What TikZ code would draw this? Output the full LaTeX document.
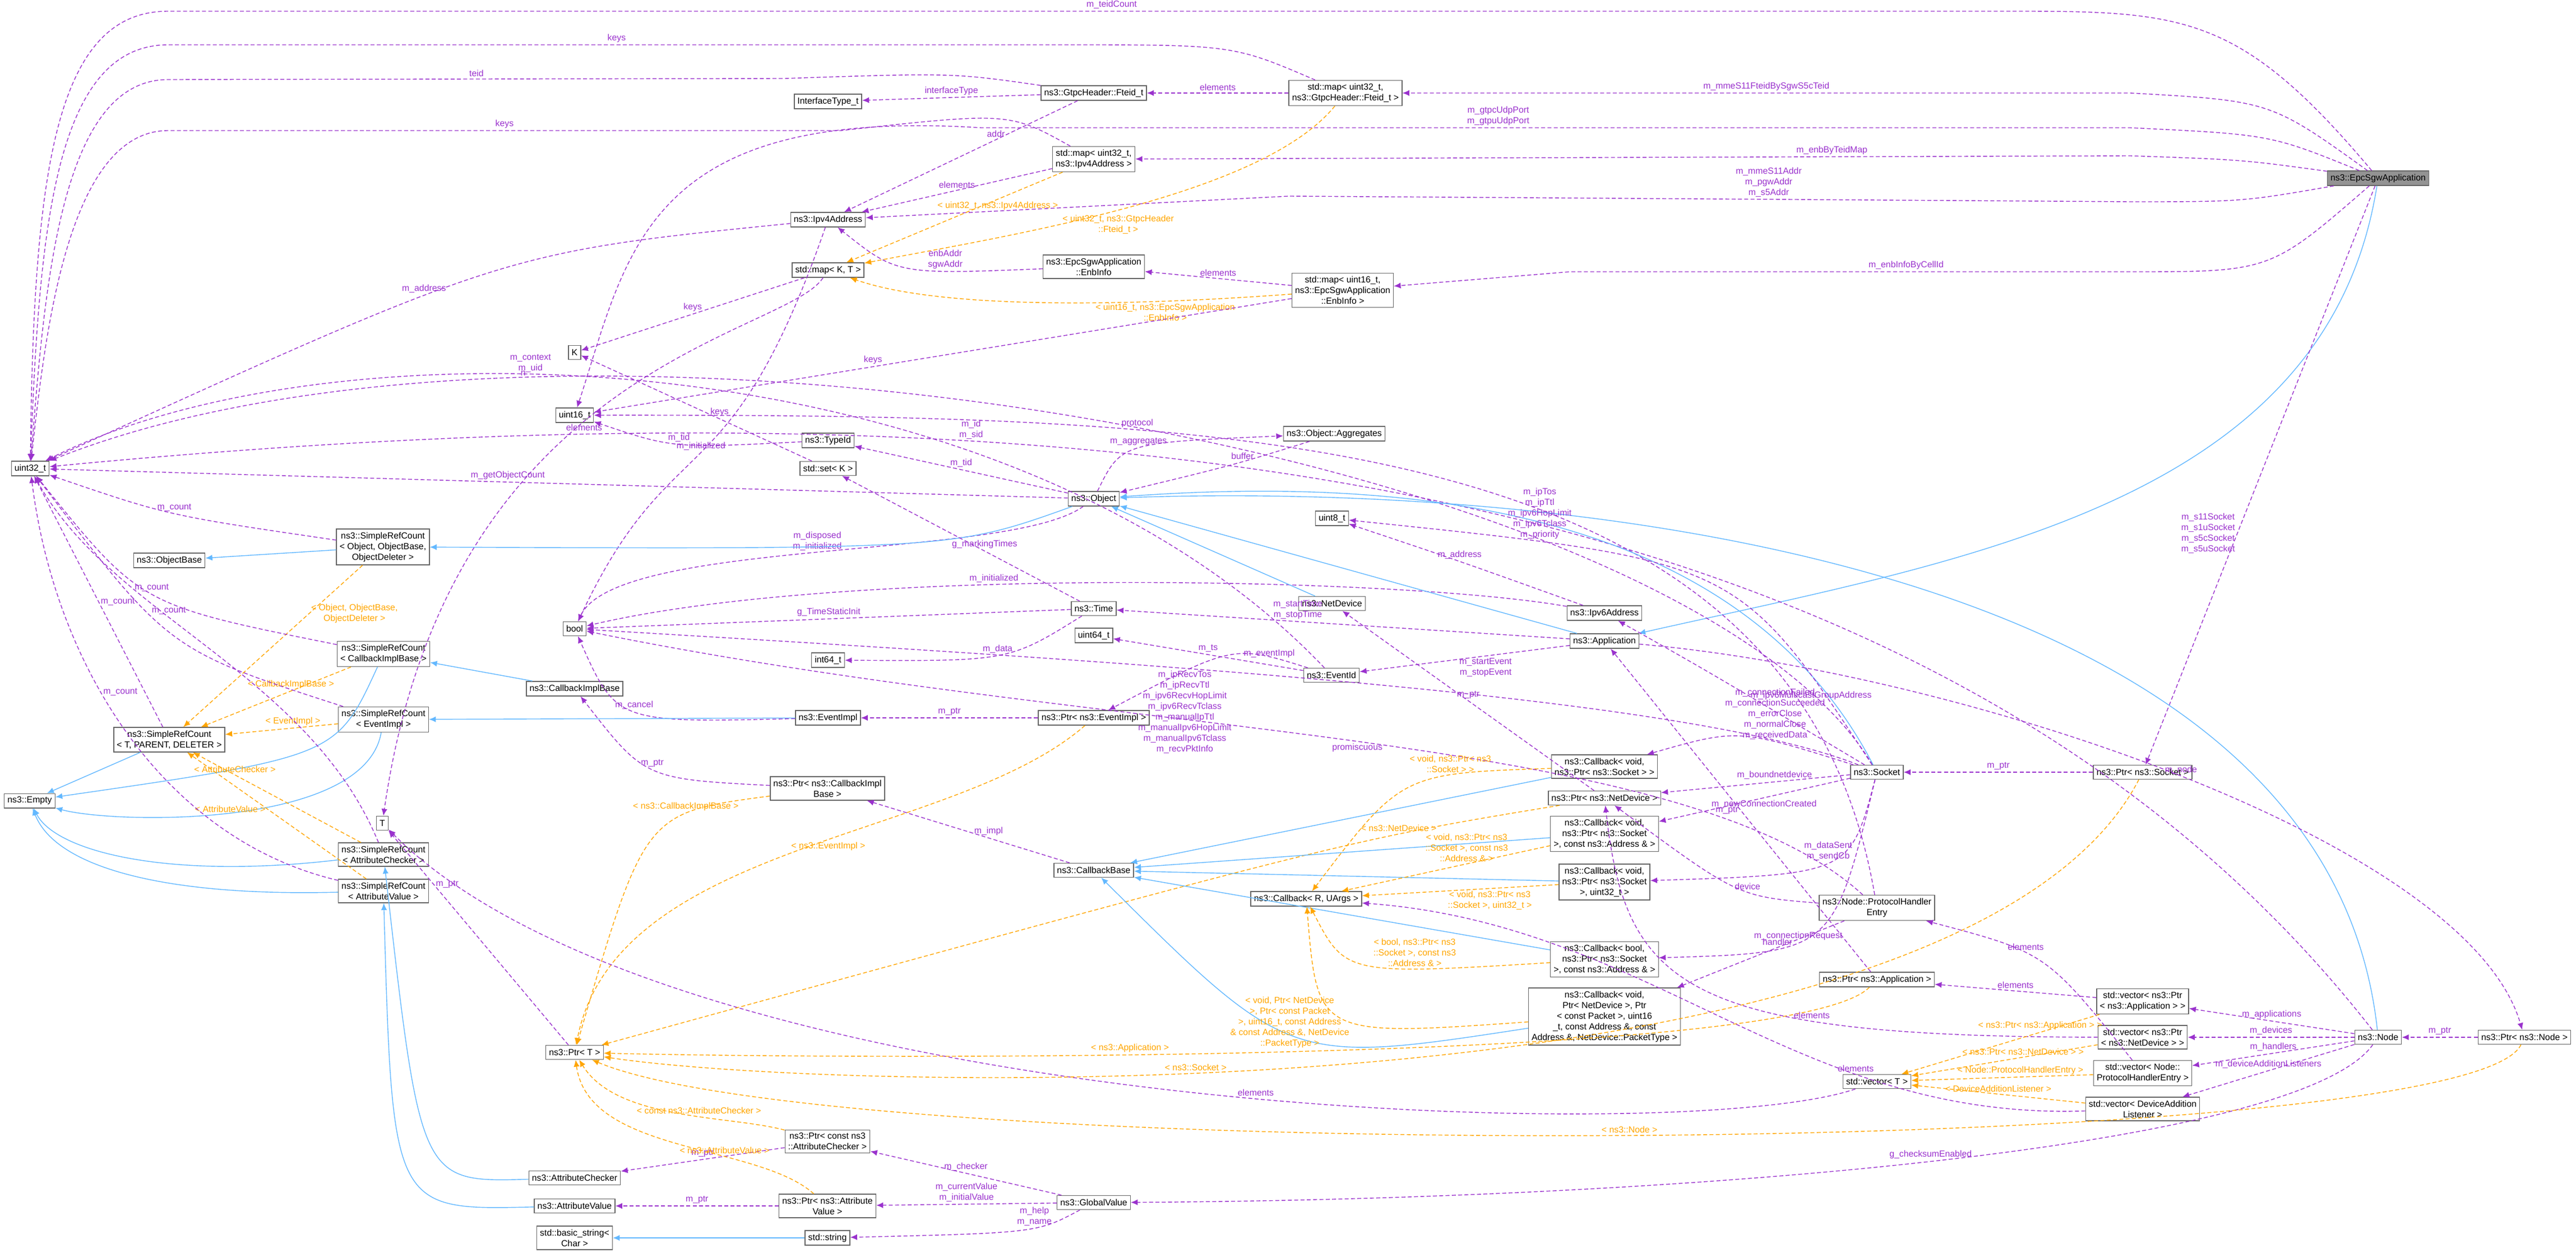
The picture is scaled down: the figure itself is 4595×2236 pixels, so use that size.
\documentclass[tikz,border=0pt]{standalone}
\usepackage{fontspec}
\setmainfont{Liberation Sans}
\usetikzlibrary{arrows.meta,positioning}
\definecolor{dxpurple}{RGB}{154,50,205}
\definecolor{dxblue}{RGB}{99,184,255}
\definecolor{dxorange}{RGB}{255,165,0}
\definecolor{dxgray}{RGB}{102,102,102}

\begin{document}
\begin{tikzpicture}[x=0.01cm, y=-0.01cm,
  cls/.style={draw=dxgray, fill=white, font=\fontsize{4.5}{5.4}\selectfont,
    align=center, inner sep=1.6pt, minimum height=0.25cm},
  lbl/.style={font=\fontsize{4.5}{5.4}\selectfont, align=center, inner sep=1pt, fill=none},
  mem/.style={-{Latex[length=3.5pt,width=3pt]}, dashed, dash pattern=on 2pt off 1.2pt, line width=0.4pt, dxpurple},
  inh/.style={-{Latex[length=3.5pt,width=3pt]}, line width=0.4pt, dxblue},
  tpl/.style={-{Latex[length=3.5pt,width=3pt]}, dashed, dash pattern=on 2pt off 1.2pt, line width=0.4pt, dxorange}]
\useasboundingbox (0,0) rectangle (4595,2236);
% Classes, left part
\node[cls] (uint32) at (54,836) {uint32\_t};
\node[cls] (iftype) at (1477,181) {InterfaceType\_t};
\node[cls] (fteid) at (1951,166) {ns3::GtpcHeader::Fteid\_t};
\node[cls] (mapfteid) at (2400,166) {std::map\textless{} uint32\_t,\\ns3::GtpcHeader::Fteid\_t \textgreater};
\node[cls] (mapipv4) at (1951,284) {std::map\textless{} uint32\_t,\\ns3::Ipv4Address \textgreater};
\node[cls] (ipv4) at (1477,392) {ns3::Ipv4Address};
\node[cls] (mapkt) at (1477,482) {std::map\textless{} K, T \textgreater};
\node[cls] (enbinfo) at (1951,476) {ns3::EpcSgwApplication\\::EnbInfo};
\node[cls] (mapenb) at (2395,518) {std::map\textless{} uint16\_t,\\ns3::EpcSgwApplication\\::EnbInfo \textgreater};
\node[cls] (kk) at (1025,629) {K};
\node[cls] (uint16) at (1025,741) {uint16\_t};
\node[cls] (typeid) at (1477,786) {ns3::TypeId};
\node[cls] (setk) at (1477,836) {std::set\textless{} K \textgreater};
\node[cls] (object) at (1951,890) {ns3::Object};
\node[cls] (aggr) at (2380,774) {ns3::Object::Aggregates};
\node[cls] (srcobj) at (683,976) {ns3::SimpleRefCount\\\textless{} Object, ObjectBase,\\ObjectDeleter \textgreater};
\node[cls] (objbase) at (302,1000) {ns3::ObjectBase};
\node[cls] (boolt) at (1025,1122) {bool};
\node[cls] (time) at (1951,1086) {ns3::Time};
\node[cls] (int64) at (1477,1178) {int64\_t};
\node[cls] (uint64) at (1951,1134) {uint64\_t};
\node[cls] (srccb) at (684,1167) {ns3::SimpleRefCount\\\textless{} CallbackImplBase \textgreater};
\node[cls] (cbimpl) at (1025,1229) {ns3::CallbackImplBase};
\node[cls] (srcev) at (684,1284) {ns3::SimpleRefCount\\\textless{} EventImpl \textgreater};
\node[cls] (evimpl) at (1477,1281) {ns3::EventImpl};
\node[cls] (ptrev) at (1951,1281) {ns3::Ptr\textless{} ns3::EventImpl \textgreater};
\node[cls] (srctpd) at (302,1320) {ns3::SimpleRefCount\\\textless{} T, PARENT, DELETER \textgreater};
\node[cls] (empty) at (53,1429) {ns3::Empty};
\node[cls] (tt) at (682,1469) {T};
\node[cls] (ptrcb) at (1476,1407) {ns3::Ptr\textless{} ns3::CallbackImpl\\Base \textgreater};
\node[cls] (cbbase) at (1951,1553) {ns3::CallbackBase};
\node[cls] (srcac) at (684,1525) {ns3::SimpleRefCount\\\textless{} AttributeChecker \textgreater};
\node[cls] (srcav) at (684,1590) {ns3::SimpleRefCount\\\textless{} AttributeValue \textgreater};
\node[cls] (ptrt) at (1025,1878) {ns3::Ptr\textless{} T \textgreater};
\node[cls] (ptrcac) at (1476,2037) {ns3::Ptr\textless{} const ns3\\::AttributeChecker \textgreater};
\node[cls] (attchk) at (1025,2102) {ns3::AttributeChecker};
\node[cls] (attval) at (1025,2152) {ns3::AttributeValue};
\node[cls] (ptrav) at (1476,2152) {ns3::Ptr\textless{} ns3::Attribute\\Value \textgreater};
\node[cls] (globval) at (1951,2146) {ns3::GlobalValue};
\node[cls] (basicstr) at (1025,2209) {std::basic\_string\textless\\Char \textgreater};
\node[cls] (stdstr) at (1476,2209) {std::string};
% Classes, right part
\node[cls, fill=gray!85] (sgw) at (4242,318) {ns3::EpcSgwApplication};
\node[cls] (uint8) at (2376,925) {uint8\_t};
\node[cls] (netdev) at (2376,1077) {ns3::NetDevice};
\node[cls] (ipv6) at (2862,1094) {ns3::Ipv6Address};
\node[cls] (app) at (2862,1144) {ns3::Application};
\node[cls] (eventid) at (2375,1205) {ns3::EventId};
\node[cls] (cbsock) at (2862,1368) {ns3::Callback\textless{} void,\\ns3::Ptr\textless{} ns3::Socket \textgreater{} \textgreater};
\node[cls] (ptrnd) at (2862,1424) {ns3::Ptr\textless{} ns3::NetDevice \textgreater};
\node[cls] (cbaddr) at (2862,1488) {ns3::Callback\textless{} void,\\ns3::Ptr\textless{} ns3::Socket\\\textgreater, const ns3::Address \& \textgreater};
\node[cls] (cbu32) at (2862,1574) {ns3::Callback\textless{} void,\\ns3::Ptr\textless{} ns3::Socket\\\textgreater, uint32\_t \textgreater};
\node[cls] (cbru) at (2330,1604) {ns3::Callback\textless{} R, UArgs \textgreater};
\node[cls] (cbbool) at (2862,1712) {ns3::Callback\textless{} bool,\\ns3::Ptr\textless{} ns3::Socket\\\textgreater, const ns3::Address \& \textgreater};
\node[cls] (cbnd) at (2862,1814) {ns3::Callback\textless{} void,\\Ptr\textless{} NetDevice \textgreater, Ptr\\\textless{} const Packet \textgreater, uint16\\\_t, const Address \&, const\\Address \&, NetDevice::PacketType \textgreater};
\node[cls] (socket) at (3348,1378) {ns3::Socket};
\node[cls] (ptrsock) at (3822,1378) {ns3::Ptr\textless{} ns3::Socket \textgreater};
\node[cls] (phe) at (3348,1620) {ns3::Node::ProtocolHandler\\Entry};
\node[cls] (ptrapp) at (3348,1748) {ns3::Ptr\textless{} ns3::Application \textgreater};
\node[cls] (vecapp) at (3822,1787) {std::vector\textless{} ns3::Ptr\\\textless{} ns3::Application \textgreater{} \textgreater};
\node[cls] (vecnd) at (3822,1851) {std::vector\textless{} ns3::Ptr\\\textless{} ns3::NetDevice \textgreater{} \textgreater};
\node[cls] (vecphe) at (3822,1915) {std::vector\textless{} Node::\\ProtocolHandlerEntry \textgreater};
\node[cls] (vecdal) at (3822,1979) {std::vector\textless{} DeviceAddition\\Listener \textgreater};
\node[cls] (vect) at (3348,1930) {std::vector\textless{} T \textgreater};
\node[cls] (node) at (4242,1851) {ns3::Node};
\node[cls] (ptrnode) at (4503,1851) {ns3::Ptr\textless{} ns3::Node \textgreater};
% Members of the application
\draw[mem] (sgw) .. controls (4000,30) and (3900,20) .. (3600,20) -- node[lbl, above, pos=0.49]{m\_teidCount} (300,20) .. controls (100,20) and (60,300) .. (uint32);
\draw[mem] (sgw) .. controls (4050,180) .. (3800,166) -- node[lbl, above]{m\_mmeS11FteidBySgwS5cTeid} (mapfteid);
\draw[mem] (sgw) .. controls (4050,240) .. (3800,228) -- node[lbl, above, pos=0.55]{m\_gtpcUdpPort\\m\_gtpuUdpPort} (1750,228) .. controls (1150,190) and (1120,450) .. (uint16);
\draw[mem] (sgw) .. controls (4000,285) .. (3800,278) -- node[lbl, above, pos=0.3]{m\_enbByTeidMap} (mapipv4);
\draw[mem] (sgw) .. controls (4000,360) .. (3800,360) -- node[lbl, above, pos=0.43]{m\_mmeS11Addr\\m\_pgwAddr\\m\_s5Addr} (2300,350) -- (ipv4);
\draw[mem] (sgw) .. controls (4050,485) .. (3800,485) -- node[lbl, above, pos=0.4]{m\_enbInfoByCellId} (2800,485) -- (mapenb);
\draw[inh] (sgw) .. controls (4150,900) and (3500,1000) .. (app);
\draw[mem] (sgw) -- node[lbl, left, pos=0.6]{m\_s11Socket\\m\_s1uSocket\\m\_s5cSocket\\m\_s5uSocket} (ptrsock);
% Maps and their template
\draw[mem] (mapfteid) .. controls (2200,80) .. (1900,80) -- node[lbl, above]{keys} (300,80) .. controls (100,80) and (70,400) .. (uint32);
\draw[mem] (mapfteid) -- node[lbl, above]{elements} (fteid);
\draw[tpl] (mapfteid) .. controls (2250,350) and (1800,420) .. node[lbl, pos=0.62, right]{\textless{} uint32\_t, ns3::GtpcHeader\\::Fteid\_t \textgreater} (mapkt);
\draw[mem] (fteid) .. controls (1700,130) .. (1400,140) -- node[lbl, above]{teid} (300,142) .. controls (110,142) and (80,500) .. (uint32);
\draw[mem] (fteid) -- node[lbl, above]{interfaceType} (iftype);
\draw[mem] (fteid) -- node[lbl, above, pos=0.35]{addr} (ipv4);
\draw[mem] (mapipv4) .. controls (1800,200) .. (1500,233) -- node[lbl, above]{keys} (300,233) .. controls (120,233) and (80,600) .. (uint32);
\draw[mem] (mapipv4) -- node[lbl, above]{elements} (ipv4);
\draw[tpl] (mapipv4) -- node[lbl, below, pos=0.3]{\textless{} uint32\_t, ns3::Ipv4Address \textgreater} (mapkt);
\draw[mem] (enbinfo) .. controls (1600,490) .. node[lbl, above, pos=0.3]{enbAddr\\sgwAddr} (ipv4);
\draw[tpl] (mapenb) .. controls (2100,540) and (1700,560) .. node[lbl, below, pos=0.3]{\textless{} uint16\_t, ns3::EpcSgwApplication\\::EnbInfo \textgreater} (mapkt);
\draw[mem] (mapenb) -- node[lbl, above]{elements} (enbinfo);
\draw[mem] (mapenb) -- node[lbl, above, pos=0.6]{keys} (uint16);
\draw[mem] (mapkt) -- node[lbl, above]{keys} (kk);
\draw[mem] (mapkt) .. controls (1400,600) and (800,650) .. node[lbl, pos=0.55, below]{elements} (tt);
\draw[mem] (ipv4) .. controls (900,450) .. node[lbl, above, pos=0.6]{m\_address} (uint32);
\draw[mem] (ipv4) .. controls (1300,900) and (1200,750) .. node[lbl, above, pos=0.5]{m\_initialized} (boolt);
\draw[mem] (setk) -- node[lbl, above, pos=0.4]{keys} (kk);
% Object and friends
\draw[mem] (object) -- node[lbl, above, pos=0.55]{m\_getObjectCount} (uint32);
\draw[mem] (object) -- node[lbl, above]{m\_tid} (typeid);
\draw[mem] (object) .. controls (1800,1000) and (1100,960) .. node[lbl, above, pos=0.5]{m\_disposed\\m\_initialized} (boolt);
\draw[mem] (object) .. controls (2000,790) .. node[lbl, above]{m\_aggregates} (aggr);
\draw[mem] (aggr) .. controls (2200,830) .. node[lbl, above, pos=0.4]{buffer} (object);
\draw[inh] (object) .. controls (1700,980) .. (srcobj);
\draw[mem] (typeid) .. controls (1200,800) .. node[lbl, above]{m\_tid} (uint16);
\draw[mem] (node) .. controls (3500,900) and (2100,640) .. node[lbl, above, pos=0.7]{m\_id\\m\_sid} (uint32);
\draw[mem] (socket) .. controls (3000,800) and (1000,460) .. node[lbl, above, pos=0.75]{n} (uint32);
\draw[mem] (phe) .. controls (3200,760) and (2200,740) .. node[lbl, above, pos=0.7]{protocol} (uint16);
\draw[inh] (srcobj) -- (objbase);
\draw[tpl] (srcobj) -- node[lbl, right, pos=0.3]{\textless{} Object, ObjectBase,\\ObjectDeleter \textgreater} (srctpd);
\draw[mem] (srcobj) .. controls (300,920) .. node[lbl, above, pos=0.5]{m\_count} (uint32);
% Time and events
\draw[mem] (time) -- node[lbl, above]{g\_TimeStaticInit} (boolt);
\draw[mem] (time) -- node[lbl, above, pos=0.4]{g\_markingTimes} (setk);
\draw[mem] (time) .. controls (1800,1180) .. node[lbl, above]{m\_data} (int64);
\draw[mem] (ipv6) .. controls (2500,1030) and (1500,1010) .. node[lbl, above, pos=0.6]{m\_initialized} (boolt);
\draw[mem] (eventid) -- node[lbl, above]{m\_ts} (uint64);
\draw[mem] (eventid) .. controls (2200,1150) .. node[lbl, right, pos=0.4]{m\_eventImpl} (ptrev);
\draw[mem] (eventid) .. controls (1800,600) and (600,560) .. node[lbl, above, pos=0.6]{m\_context\\m\_uid} (uint32);
\draw[mem] (ptrev) -- node[lbl, above]{m\_ptr} (evimpl);
\draw[mem] (evimpl) .. controls (1100,1290) .. node[lbl, above]{m\_cancel} (boolt);
\draw[inh] (evimpl) -- (srcev);
\draw[tpl] (ptrev) .. controls (1700,1500) and (1100,1500) .. node[lbl, below, pos=0.45]{\textless{} ns3::EventImpl \textgreater} (ptrt);
\draw[inh] (cbimpl) -- (srccb);
\draw[tpl] (srccb) -- node[lbl, above, pos=0.4]{\textless{} CallbackImplBase \textgreater} (srctpd);
\draw[inh] (srccb) .. controls (600,1350) .. (empty);
\draw[mem] (srccb) .. controls (250,1080) .. node[lbl, above, pos=0.5]{m\_count} (uint32);
\draw[inh] (srcev) .. controls (650,1480) and (200,1470) .. (empty);
\draw[tpl] (srcev) -- node[lbl, above, pos=0.4]{\textless{} EventImpl \textgreater} (srctpd);
\draw[mem] (srcev) .. controls (300,1160) .. (uint32);
\draw[inh] (srctpd) -- (empty);
\draw[mem] (srctpd) -- node[lbl, right, pos=0.5]{m\_count} (uint32);
\draw[inh] (srcac) .. controls (300,1570) and (100,1520) .. (empty);
\draw[tpl] (srcac) -- node[lbl, above, pos=0.75]{\textless{} AttributeChecker \textgreater} (srctpd);
\draw[mem] (srcac) .. controls (550,1200) and (200,1100) .. node[lbl, above, pos=0.6]{m\_count} (uint32);
\draw[inh] (srcav) .. controls (300,1600) and (100,1550) .. (empty);
\draw[tpl] (srcav) -- node[lbl, left, pos=0.55]{\textless{} AttributeValue \textgreater} (srctpd);
\draw[mem] (srcav) .. controls (300,1500) and (100,1200) .. node[lbl, right, pos=0.6]{m\_count} (uint32);
% Pointers and attributes
\draw[mem] (ptrcb) .. controls (1150,1390) .. node[lbl, above, pos=0.5]{m\_ptr} (cbimpl);
\draw[tpl] (ptrcb) .. controls (1150,1450) .. node[lbl, above, pos=0.3]{\textless{} ns3::CallbackImplBase \textgreater} (ptrt);
\draw[mem] (cbbase) -- node[lbl, above, pos=0.4]{m\_impl} (ptrcb);
\draw[mem] (ptrt) -- node[lbl, right, pos=0.75]{m\_ptr} (tt);
\draw[inh] (attchk) .. controls (750,2110) .. (srcac);
\draw[inh] (attval) .. controls (700,2160) .. (srcav);
\draw[mem] (ptrcac) -- node[lbl, above, pos=0.5]{m\_ptr} (attchk);
\draw[tpl] (ptrcac) .. controls (1300,1990) and (1100,2000) .. node[lbl, above, pos=0.4]{\textless{} const ns3::AttributeChecker \textgreater} (ptrt);
\draw[mem] (ptrav) -- node[lbl, above]{m\_ptr} (attval);
\draw[tpl] (ptrav) .. controls (1350,2040) and (1050,2060) .. node[lbl, above, pos=0.35]{\textless{} ns3::AttributeValue \textgreater} (ptrt);
\draw[mem] (globval) -- node[lbl, above]{m\_checker} (ptrcac);
\draw[mem] (globval) -- node[lbl, above]{m\_currentValue\\m\_initialValue} (ptrav);
\draw[mem] (globval) .. controls (1850,2200) .. node[lbl, above, pos=0.4]{m\_help\\m\_name} (stdstr);
\draw[inh] (stdstr) -- (basicstr);
\draw[mem] (node) .. controls (4100,2050) and (3000,2140) .. node[lbl, above, pos=0.5]{g\_checksumEnabled} (globval);
\draw[mem] (vect) .. controls (3000,2050) and (1200,1990) .. node[lbl, above, pos=0.45]{elements} (tt);
% Application, socket, devices
\draw[inh] (app) -- (object);
\draw[inh] (netdev) -- (object);
\draw[inh] (socket) .. controls (3100,900) and (2500,850) .. (object);
\draw[inh] (node) .. controls (4150,1000) and (2800,860) .. (object);
\draw[mem] (app) -- node[lbl, above, pos=0.6]{m\_startTime\\m\_stopTime} (time);
\draw[mem] (app) -- node[lbl, below, pos=0.4]{m\_startEvent\\m\_stopEvent} (eventid);
\draw[mem] (app) .. controls (3500,1200) and (4400,1500) .. node[lbl, above, pos=0.5]{m\_node} (ptrnode);
\draw[mem] (ptrnd) -- node[lbl, above]{m\_ptr} (netdev);
\draw[tpl] (ptrnd) .. controls (2400,1500) .. node[lbl, above, pos=0.3]{\textless{} ns3::NetDevice \textgreater} (ptrt);
\draw[mem] (ptrapp) -- node[lbl, left, pos=0.5]{m\_ptr} (app);
\draw[tpl] (ptrapp) .. controls (3200,1900) and (1500,1890) .. node[lbl, above, pos=0.6]{\textless{} ns3::Application \textgreater} (ptrt);
\draw[mem] (ptrsock) -- node[lbl, above]{m\_ptr} (socket);
\draw[tpl] (ptrsock) .. controls (3500,2000) and (1500,1950) .. node[lbl, above, pos=0.6]{\textless{} ns3::Socket \textgreater} (ptrt);
\draw[mem] (ptrnode) -- node[lbl, above]{m\_ptr} (node);
\draw[tpl] (ptrnode) .. controls (4400,2070) and (1500,2080) .. node[lbl, above, pos=0.5]{\textless{} ns3::Node \textgreater} (ptrt);
\draw[mem] (socket) .. controls (3100,1300) .. node[lbl, above, pos=0.3]{m\_connectionFailed\\m\_connectionSucceeded\\m\_errorClose\\m\_normalClose\\m\_receivedData} (cbsock);
\draw[mem] (socket) -- node[lbl, above, pos=0.4]{m\_boundnetdevice} (ptrnd);
\draw[mem] (socket) -- node[lbl, below, pos=0.45]{m\_newConnectionCreated} (cbaddr);
\draw[mem] (socket) .. controls (3300,1560) .. node[lbl, above, pos=0.5]{m\_dataSent\\m\_sendCb} (cbu32);
\draw[mem] (socket) .. controls (3270,1700) .. node[lbl, above, pos=0.6]{m\_connectionRequest} (cbbool);
\draw[mem] (socket) .. controls (3100,1000) .. node[lbl, above, pos=0.8]{m\_ipTos\\m\_ipTtl\\m\_ipv6HopLimit\\m\_ipv6Tclass\\m\_priority} (uint8);
\draw[mem] (socket) .. controls (3050,1200) .. node[lbl, right, pos=0.35]{m\_ipv6MulticastGroupAddress} (ipv6);
\draw[mem] (socket) .. controls (3000,1240) and (2000,1180) .. node[lbl, below, pos=0.62]{m\_ipRecvTos\\m\_ipRecvTtl\\m\_ipv6RecvHopLimit\\m\_ipv6RecvTclass\\m\_manualIpTtl\\m\_manualIpv6HopLimit\\m\_manualIpv6Tclass\\m\_recvPktInfo} (boolt);
\draw[mem] (ipv6) .. controls (2600,1000) .. node[lbl, above, pos=0.5]{m\_address} (uint8);
\draw[mem] (phe) .. controls (3000,1300) and (2000,1320) .. node[lbl, below, pos=0.5]{promiscuous} (boolt);
\draw[mem] (phe) .. controls (3100,1600) .. node[lbl, above, pos=0.4]{device} (ptrnd);
\draw[mem] (phe) -- node[lbl, above, pos=0.4]{handler} (cbnd);
% Callbacks
\draw[inh] (cbsock) -- (cbbase);
\draw[inh] (cbaddr) -- (cbbase);
\draw[inh] (cbu32) -- (cbbase);
\draw[inh] (cbbool) -- (cbbase);
\draw[inh] (cbnd) .. controls (2300,1900) .. (cbbase);
\draw[tpl] (cbsock) .. controls (2500,1380) .. node[lbl, above, pos=0.3]{\textless{} void, ns3::Ptr\textless{} ns3\\::Socket \textgreater{} \textgreater} (cbru);
\draw[tpl] (cbaddr) -- node[lbl, above, pos=0.4]{\textless{} void, ns3::Ptr\textless{} ns3\\::Socket \textgreater, const ns3\\::Address \& \textgreater} (cbru);
\draw[tpl] (cbu32) -- node[lbl, below, pos=0.35]{\textless{} void, ns3::Ptr\textless{} ns3\\::Socket \textgreater, uint32\_t \textgreater} (cbru);
\draw[tpl] (cbbool) .. controls (2400,1740) .. node[lbl, above, pos=0.3]{\textless{} bool, ns3::Ptr\textless{} ns3\\::Socket \textgreater, const ns3\\::Address \& \textgreater} (cbru);
\draw[tpl] (cbnd) .. controls (2350,1850) .. node[lbl, left, pos=0.45]{\textless{} void, Ptr\textless{} NetDevice\\\textgreater, Ptr\textless{} const Packet\\\textgreater, uint16\_t, const Address\\\& const Address \&, NetDevice\\::PacketType \textgreater} (cbru);
% Node containers
\draw[mem] (node) -- node[lbl, above]{m\_applications} (vecapp);
\draw[mem] (node) -- node[lbl, above]{m\_devices} (vecnd);
\draw[mem] (node) -- node[lbl, above]{m\_handlers} (vecphe);
\draw[mem] (node) -- node[lbl, above]{m\_deviceAdditionListeners} (vecdal);
\draw[mem] (vecapp) -- node[lbl, above]{elements} (ptrapp);
\draw[mem] (vecnd) .. controls (3000,1850) and (2900,1760) .. node[lbl, above, pos=0.3]{elements} (ptrnd);
\draw[mem] (vecphe) .. controls (3650,1700) .. node[lbl, above, pos=0.6]{elements} (phe);
\draw[mem] (vecdal) .. controls (3200,2000) and (2950,1650) .. node[lbl, above, pos=0.3]{elements} (cbru);
\draw[tpl] (vecapp) -- node[lbl, above, pos=0.3]{\textless{} ns3::Ptr\textless{} ns3::Application \textgreater{} \textgreater} (vect);
\draw[tpl] (vecnd) -- node[lbl, above, pos=0.4]{\textless{} ns3::Ptr\textless{} ns3::NetDevice \textgreater{} \textgreater} (vect);
\draw[tpl] (vecphe) -- node[lbl, above, pos=0.4]{\textless{} Node::ProtocolHandlerEntry \textgreater} (vect);
\draw[tpl] (vecdal) -- node[lbl, above, pos=0.5]{\textless{} DeviceAdditionListener \textgreater} (vect);
\end{tikzpicture}
\end{document}
